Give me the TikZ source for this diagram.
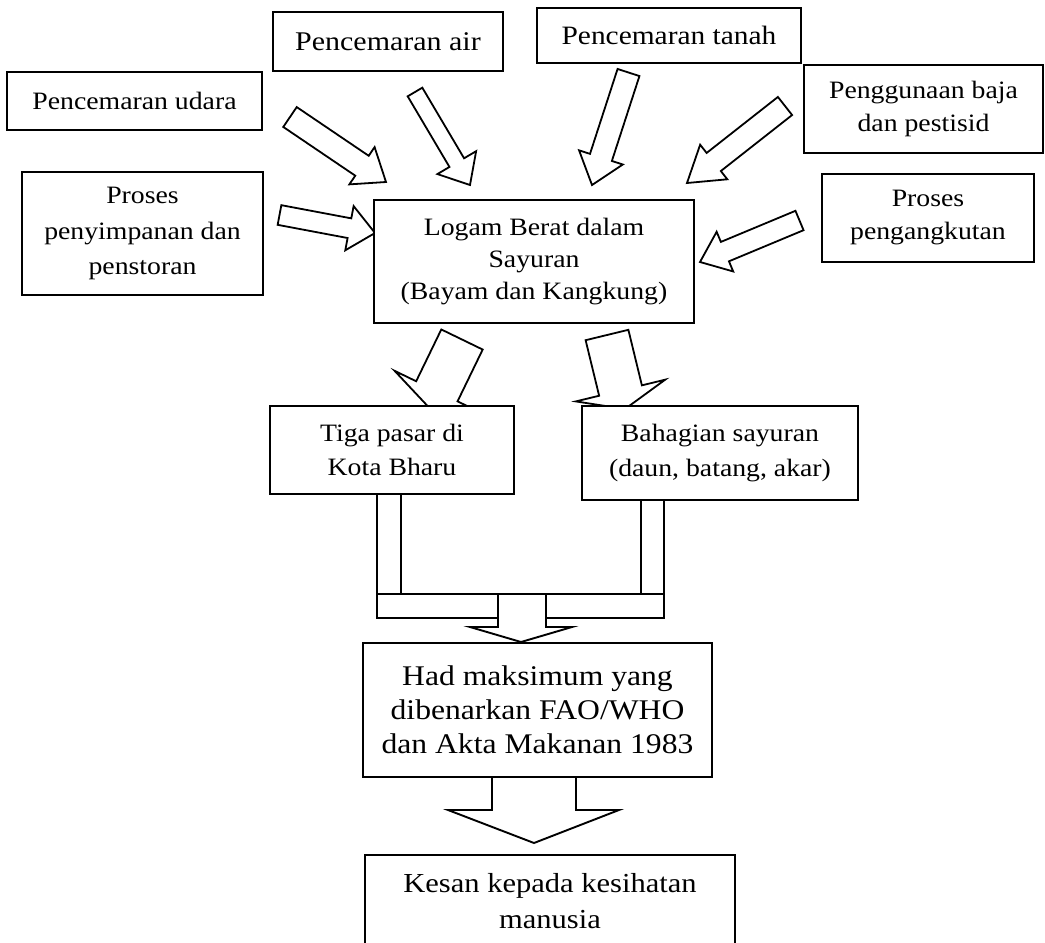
\documentclass[tikz,border=0pt]{standalone}
\usepackage{fontspec}
\setmainfont{Liberation Serif}[FakeStretch=1.11]
\usetikzlibrary{calc}
\newcommand\fsz[2]{\fontsize{#1}{#2}\selectfont}
% block arrow: tail, tip, shaft half width, head half width, head length
\newcommand\blockarrow[5]{%
  \coordinate (ba-h) at ($(#2)!#5!(#1)$);
  \draw[barrow] ($(#1)!#3!90:(#2)$) -- ($(ba-h)!#3!90:(#2)$) -- ($(ba-h)!#4!90:(#2)$)
    -- (#2) -- ($(ba-h)!#4!-90:(#2)$) -- ($(ba-h)!#3!-90:(#2)$) -- ($(#1)!#3!-90:(#2)$) -- cycle;}
\begin{document}
\begin{tikzpicture}[x=1pt,y=-1pt,
  box/.style={draw, line width=2pt, fill=white, align=center, inner sep=0pt},
  conn/.style={line width=1.9pt, line join=miter},
  barrow/.style={draw, line width=1.8pt, fill=white, line join=miter}]
\fill[white] (0,0) rectangle (1045,943);
\useasboundingbox (0,0) rectangle (1045,943);

% ---- block arrows into the central box
\coordinate (a1s) at (290,117);   \coordinate (a1e) at (386,182);
\coordinate (a2s) at (415,92);    \coordinate (a2e) at (470,185);
\coordinate (a3s) at (279.5,215); \coordinate (a3e) at (375,233);
\coordinate (a4s) at (628.5,72.5);\coordinate (a4e) at (592,185);
\coordinate (a5s) at (785,106);   \coordinate (a5e) at (687,183);
\coordinate (a6s) at (799.5,220.5);\coordinate (a6e) at (700,262);
\coordinate (a7s) at (462,339.5); \coordinate (a7e) at (429,407.5);
\coordinate (a8s) at (607,335);   \coordinate (a8e) at (625,409);
\blockarrow{a1s}{a1e}{12pt}{22.5pt}{29pt}
\blockarrow{a2s}{a2e}{8.5pt}{22.5pt}{26pt}
\blockarrow{a3s}{a3e}{10pt}{22.5pt}{26pt}
\blockarrow{a4s}{a4e}{11.5pt}{23pt}{29pt}
\blockarrow{a5s}{a5e}{11.5pt}{22pt}{34pt}
\blockarrow{a6s}{a6e}{10.5pt}{21.5pt}{27pt}
\blockarrow{a7s}{a7e}{23pt}{47pt}{18pt}
\blockarrow{a8s}{a8e}{22pt}{46pt}{19pt}

% ---- boxes
\node[box, font={\fsz{25}{34}}, minimum width=255pt, minimum height=58pt] (udara) at (134.5,101) {Pencemaran udara};
\node[box, font={\fsz{27}{34}}, minimum width=230pt, minimum height=59pt] (air) at (388,41.5) {Pencemaran air};
\node[box, font={\fsz{26.5}{34}}, minimum width=264pt, minimum height=55pt] (tanah) at (669,35.5) {Pencemaran tanah};
\node[box, font={\fsz{25}{33}}, minimum width=239pt, minimum height=88pt] (baja) at (923.5,109) {Penggunaan baja\\dan pestisid};
\node[box, font={\fsz{25}{35.5}}, minimum width=241pt, minimum height=123pt] (simpan) at (142.5,233.5) {Proses\\penyimpanan dan\\penstoran};
\node[box, font={\fsz{25}{33}}, minimum width=212pt, minimum height=88pt] (angkut) at (928,218) {Proses\\pengangkutan};
\node[box, line width=2.6pt, font={\fsz{25}{32}}, minimum width=320pt, minimum height=123pt] (logam) at (534,261.5) {Logam Berat dalam\\Sayuran\\(Bayam dan Kangkung)};
\node[box, font={\fsz{25}{34}}, minimum width=244pt, minimum height=88pt] (tiga) at (392,450) {Tiga pasar di\\Kota Bharu};
\node[box, font={\fsz{25}{35}}, minimum width=276pt, minimum height=94pt] (bah) at (720,453) {Bahagian sayuran\\(daun, batang, akar)};
\node[box, font={\fsz{28.5}{34}}, minimum width=349pt, minimum height=134pt] (had) at (537.5,710) {Had maksimum yang\\dibenarkan FAO/WHO\\dan Akta Makanan 1983};
\node[box, font={\fsz{27.5}{36}}, minimum width=370pt, minimum height=93pt] (kesan) at (550,901.5) {Kesan kepada kesihatan\\manusia};

% ---- merging connector
\draw[conn] (377,0 |- tiga.south) -- (377,594);
\draw[conn] (401,0 |- tiga.south) -- (401,594);
\draw[conn] (641,0 |- bah.south) -- (641,594);
\draw[conn] (664,0 |- bah.south) -- (664,594);
\draw[conn] (498,618) -- (377,618) -- (377,594) -- (664,594) -- (664,618) -- (546,618);
\draw[conn] (498,594) -- (498,627) -- (470,627) -- (521,0 |- had.north) -- (572,627) -- (546,627) -- (546,594);

% ---- arrow to the last box
\coordinate (b1) at (534,843);
\draw[conn] (492,0 |- had.south) -- (492,810) -- (448,810) -- (b1) -- (619,810) -- (576,810) -- (576,0 |- had.south);
\end{tikzpicture}
\end{document}
